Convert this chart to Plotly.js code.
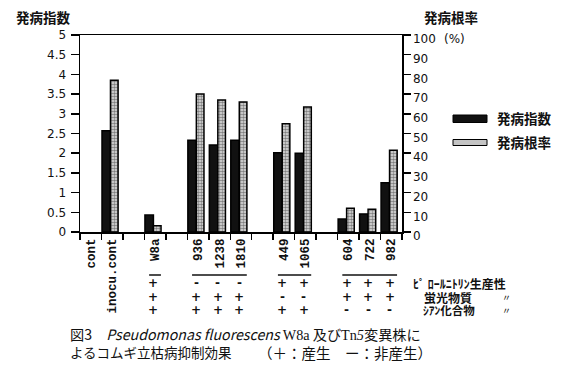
<!DOCTYPE html>
<html><head><meta charset="utf-8">
<script src="https://cdn.plot.ly/plotly-3.0.1.min.js"></script>
<style>body{margin:0;background:#fff}#c{width:566px;height:373px}</style>
</head><body><div id="c"></div>
<script>
// ---- data ----
var categories = ['cont','inocu.cont',' ','W8a','  ','936','1238','1810','   ','449','1065','    ','604','722','982'];
var diseaseIndex = [0, 2.57, null, 0.43, null, 2.33, 2.21, 2.33, null, 2.01, 2.0, null, 0.33, 0.46, 1.25];
var diseaseRate = [0, 77, null, 3.2, null, 70, 67, 66, null, 55, 63.5, null, 12, 11.5, 41.5];
var pyrrolnitrin = ['','','','+','','-','-','-','','+','+','','+','+','+'];
var fluorescent  = ['','','','+','','+','+','+','','-','-','','+','+','+'];
var cyanide      = ['','','','+','','+','+','+','','+','+','','-','-','-'];
var groups = [[3,3],[5,7],[9,10],[12,14]];
var leftTicks = [0,0.5,1,1.5,2,2.5,3,3.5,4,4.5,5];
var rightTicks = [0,10,20,30,40,50,60,70,80,90,100];
var seriesNames = ['発病指数','発病根率'];
var rowLabels = ['ﾋﾟ ﾛｰﾙﾆﾄﾘﾝ生産性','蛍光物質','ｼｱﾝ化合物'];

// ---- layout helpers (pixel -> paper) ----
var L=80, R=402, T=35, B=232;
function px(x){return (x-L)/(R-L);}
function py(y){return (B-y)/(B-T);}
var JP = '"Noto Sans CJK JP", sans-serif';

function lineW(vals){return vals.map(function(v){return v ? 1.5 : 0;});}

var traces = [
  {type:'bar', x:categories, y:diseaseIndex, name:seriesNames[0], yaxis:'y',
   offset:-0.475, width:0.395,
   marker:{color:'#111', line:{color:'#000', width:lineW(diseaseIndex)}}},
  {type:'bar', x:categories, y:diseaseRate, name:seriesNames[1], yaxis:'y2',
   offset:-0.08, width:0.355,
   marker:{color:'#bdbdbd', line:{color:'#000', width:lineW(diseaseRate)},
     pattern:{shape:'.', fgcolor:'#808080', bgcolor:'#e4e4e4', size:3, solidity:0.55}}}
];

var ann = [];
function T_(text,x,y,opt){
  opt=opt||{};
  ann.push({text:text, xref:opt.xref||'paper', yref:'paper', x:opt.xref?x:px(x), y:py(y),
    xanchor:opt.xa||'left', yanchor:'middle', showarrow:false,
    font:{family:opt.family||JP, size:opt.size||13, color:'#111', weight:opt.weight||'normal'}});
}
T_('発病指数',14,17,{size:13.5,weight:'bold'});
T_('発病根率',422,17,{size:13.5,weight:'bold'});
T_('(%)',442,39,{family:'DejaVu Sans',size:12});
T_(seriesNames[0],495,118,{size:13.5,weight:'bold'});
T_(seriesNames[1],495,142,{size:13.5,weight:'bold'});
T_(rowLabels[0],411,283,{size:12,weight:'bold'});
T_(rowLabels[1],422,297,{size:12,weight:'bold'});
T_('〃',500,297,{size:9});
T_(rowLabels[2],421,310,{size:11.5,weight:'bold'});
T_('〃',500,310,{size:9});

var rows = [[pyrrolnitrin,283],[fluorescent,297],[cyanide,310]];
rows.forEach(function(r){
  r[0].forEach(function(s,i){
    if(!s) return;
    T_(s, i-0.08, r[1], {xref:'x', xa:'center', family:'DejaVu Sans', size:12, weight:'bold'});
  });
});

T_('図3　<i>Pseudomonas fluorescens</i> <span style="font-family:\'Liberation Serif\'">W8a</span> 及び<span style="font-family:\'Liberation Serif\'">Tn<i>5</i></span>変異株に',68,334,{size:14.2});
T_('よるコムギ立枯病抑制効果',68,352,{size:13.5});
T_('（＋：産生　ー：非産生）',256,352,{size:14.5});

var shapes = [];
groups.forEach(function(g){
  shapes.push({type:'line', xref:'x', yref:'paper', x0:g[0]-0.28, x1:g[1]+0.27, y0:py(275), y1:py(275),
    line:{color:'#111', width:1.5}});
});
// legend swatches
shapes.push({type:'rect', xref:'paper', yref:'paper', x0:px(453), x1:px(487), y0:py(122.5), y1:py(115), fillcolor:'#111', line:{color:'#000',width:1}});
shapes.push({type:'rect', xref:'paper', yref:'paper', x0:px(453), x1:px(487), y0:py(145.5), y1:py(139.5), fillcolor:'#c4c4c4', line:{color:'#000',width:1}});

var layout = {
  width:566, height:373, margin:{l:L, r:566-R, t:T, b:373-B},
  paper_bgcolor:'#fff', plot_bgcolor:'#fff', showlegend:false, barmode:'overlay',
  xaxis:{type:'category', categoryorder:'array', categoryarray:categories,
    tickson:'boundaries', ticks:'outside', ticklen:6, tickcolor:'#000', tickwidth:1.5,
    showline:true, linecolor:'#000', linewidth:1.5, mirror:true, showgrid:false,
    tickangle:-90, tickfont:{family:'Liberation Mono', size:12.5, color:'#111', weight:'bold'}},
  yaxis:{range:[0,5], tickvals:leftTicks, ticks:'outside', ticklen:8, tickcolor:'#000', tickwidth:1.5,
    showline:true, linecolor:'#000', linewidth:1.5, showgrid:false, zeroline:false,
    tickfont:{family:'DejaVu Sans', size:12, color:'#111'}, ticklabelstandoff:2},
  yaxis2:{range:[0,100], tickvals:rightTicks, overlaying:'y', side:'right', ticks:'outside', ticklen:7,
    tickcolor:'#000', tickwidth:1.5, showline:true, linecolor:'#000', linewidth:1.5,
    showgrid:false, zeroline:false, ticklabelshift:4, ticklabelstandoff:0,
    tickfont:{family:'DejaVu Sans', size:12, color:'#111'}},
  annotations:ann, shapes:shapes
};
Plotly.newPlot('c', traces, layout, {staticPlot:true, displayModeBar:false});
</script></body></html>
